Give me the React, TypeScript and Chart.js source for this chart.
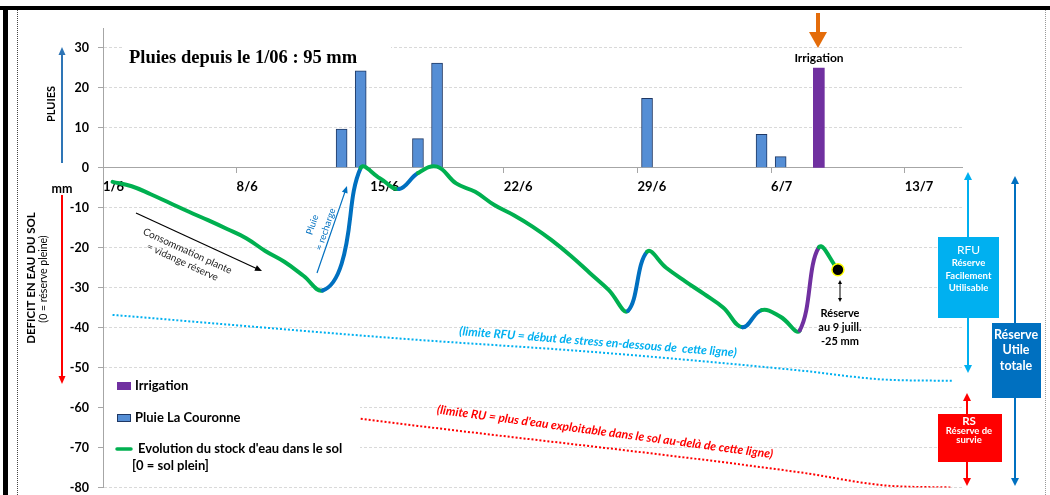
import React, { useEffect, useRef } from 'react';
import { Chart, registerables } from 'chart.js';

Chart.register(...registerables);

// ---------- data ----------
const dayTicks = [0, 7, 14, 21, 28, 35, 42];
const dateLabels = ['1/6', '8/6', '15/6', '22/6', '29/6', '6/7', '13/7'];
const mmTicks = [30, 20, 10, 0, -10, -20, -30, -40, -50, -60, -70, -80];

const rainDays = [12.5, 13.5, 16.5, 17.5, 28.5, 34.5, 35.5];
const rainMm = [9.7, 24.3, 7.3, 26.2, 17.4, 8.4, 2.8];

const irrigationDays = [37.5];
const irrigationMm = [25];

const stockDays = [
  0.5, 1.5, 2.5, 3.5, 4.5, 5.5, 6.5, 7.5, 8.5, 9.5, 10.5, 11.5, 12.5, 13.5, 14.5, 15.5, 16.5, 17.5, 18.5, 19.5,
  20.5, 21.5, 22.5, 23.5, 24.5, 25.5, 26.5, 27.5, 28.5, 29.5, 30.5, 31.5, 32.5, 33.5, 34.5, 35.5, 36.5, 37.5, 38.5,
];
const stockMm = [
  -3.5, -4.6, -6.6, -8.8, -11.0, -13.1, -15.3, -17.6, -20.8, -23.5, -27.0, -30.7, -24.0, 0.0, -2.6, -5.3, -1.3, 0.3, -3.9, -6.0,
  -9.3, -11.8, -14.7, -18.1, -22.0, -26.3, -30.6, -35.8, -21.0, -25.0, -28.4, -31.6, -35.0, -39.9, -35.6, -37.3, -40.7, -19.9, -25.5,
];

const rechargeSpans = [[11.5, 13.5], [15.5, 16.5], [27.5, 28.5], [33.5, 34.5]];
const irrigationSpans = [[36.5, 37.5]];

const reserveDay = [38.5];
const reserveMm = [-25.5];

const rfuDays = [0.5, 15.5, 26, 36.5, 41, 44.5];
const rfuMm = [-36.8, -42.7, -46.2, -50.7, -53, -53.3];

const ruDays = [13.5, 15.5, 36.5, 41, 44.5];
const ruMm = [-62.8, -64, -76.2, -79.5, -80];

// ---------- styles ----------
const FONT = 'Lato, "Open Sans", "DejaVu Sans", sans-serif';
const GREEN = '#00B050';
const BLUE = '#0070C0';
const PURPLE = '#7030A0';
const RAIN_FILL = '#558ED5';
const RAIN_EDGE = '#1F3864';
const CYAN = '#00B0F0';
const RED = '#FF0000';

const f = (size: number, weight = 'bold', style = 'normal') => `${style} ${weight} ${size}px ${FONT}`;

function head(c: CanvasRenderingContext2D, x: number, y: number, a: number, len: number, hw: number, color: string) {
  c.save();
  c.translate(x, y);
  c.rotate(a);
  c.beginPath();
  c.moveTo(0, 0);
  c.lineTo(-len, -hw);
  c.lineTo(-len, hw);
  c.closePath();
  c.fillStyle = color;
  c.fill();
  c.restore();
}

function arrow(
  c: CanvasRenderingContext2D, x1: number, y1: number, x2: number, y2: number,
  color: string, width: number, len: number, hw: number, both = false,
) {
  const a = Math.atan2(y2 - y1, x2 - x1);
  const ca = Math.cos(a), sa = Math.sin(a);
  c.save();
  c.strokeStyle = color;
  c.lineWidth = width;
  c.beginPath();
  c.moveTo(both ? x1 + ca * len * 0.7 : x1, both ? y1 + sa * len * 0.7 : y1);
  c.lineTo(x2 - ca * len * 0.7, y2 - sa * len * 0.7);
  c.stroke();
  head(c, x2, y2, a, len, hw, color);
  if (both) head(c, x1, y1, a + Math.PI, len, hw, color);
  c.restore();
}

function rotLines(
  c: CanvasRenderingContext2D, cx: number, cy: number, angleDeg: number,
  lines: [string, number][], font: string, color: string,
) {
  c.save();
  c.translate(cx, cy);
  c.rotate((angleDeg * Math.PI) / 180);
  c.font = font;
  c.fillStyle = color;
  c.textAlign = 'center';
  c.textBaseline = 'middle';
  lines.forEach(([t, dy]) => c.fillText(t, 0, dy));
  c.restore();
}

function centered(c: CanvasRenderingContext2D, lines: [string, number][], x: number, font: string, color: string) {
  c.font = font;
  c.fillStyle = color;
  c.textAlign = 'center';
  c.textBaseline = 'middle';
  lines.forEach(([t, y]) => c.fillText(t, x, y));
}

const decor = {
  id: 'decor',
  beforeDatasetsDraw(chart: any) {
    const c: CanvasRenderingContext2D = chart.ctx;
    c.save();
    c.fillStyle = '#fff';
    c.fillRect(123, 40, 268, 28);
    c.fillRect(104, 371, 256, 110);
    c.restore();
  },
  afterDraw(chart: any) {
    const c: CanvasRenderingContext2D = chart.ctx;
    c.save();
    // frame
    c.fillStyle = '#000';
    c.fillRect(0, 6, 1050, 4);
    c.fillRect(3, 6, 5, 489);
    c.lineWidth = 1;
    c.setLineDash([1, 1]);
    c.strokeStyle = '#444';
    c.beginPath(); c.moveTo(17.5, 10); c.lineTo(17.5, 495); c.stroke();
    c.strokeStyle = '#999';
    c.beginPath(); c.moveTo(1045.5, 10); c.lineTo(1045.5, 495); c.stroke();
    c.setLineDash([]);

    // title
    c.font = 'bold 18.5px "Liberation Serif", "Times New Roman", serif';
    c.fillStyle = '#000';
    c.textAlign = 'left';
    c.textBaseline = 'alphabetic';
    c.fillText('Pluies depuis le 1/06 : 95 mm', 129, 63);

    // irrigation marker
    arrow(c, 818, 13, 818, 48, '#E46C0A', 4, 16, 9);
    centered(c, [['Irrigation', 58]], 819, f(12), '#000');

    // left axis titles
    rotLines(c, 51, 104, -90, [['PLUIES', 0]], f(11), '#000');
    arrow(c, 62, 163, 62, 47, '#2E75B6', 2, 8, 3.5);
    centered(c, [['mm', 189]], 62, f(12.5), '#000');
    rotLines(c, 31, 278, -90, [['DEFICIT EN EAU DU SOL', 0]], f(11.5), '#000');
    rotLines(c, 44, 279, -90, [['(0 = réserve pleine)', 0]], f(10.5, 'normal'), '#000');
    arrow(c, 62, 195, 62, 384, RED, 2, 8, 3.5);

    // consumption annotation
    arrow(c, 136, 213, 262, 271, '#000', 1.2, 7, 3);
    rotLines(c, 185, 256.5, 24.5, [['Consommation plante', -6], ['= vidange réserve', 6]], f(10, 'normal'), '#222');

    // rain recharge annotation
    arrow(c, 317, 273, 347, 186, BLUE, 1.2, 7, 3);
    rotLines(c, 319, 227, -71, [['Pluie', -7], ['= recharge', 7]], f(9.5, 'normal'), BLUE);

    // limit texts
    rotLines(c, 598, 342, 4.5, [['(limite RFU = début de stress en-dessous de  cette ligne)', 0]], f(12, 'bold', 'italic'), CYAN);
    rotLines(c, 605, 432, 7.6, [["(limite RU = plus d'eau exploitable dans le sol au-delà de cette ligne)", 0]], f(12, 'bold', 'italic'), RED);

    // reserve annotation
    arrow(c, 840, 280, 840, 302, '#000', 1, 4, 2, true);
    centered(c, [['Réserve', 313], ['au 9 juill.', 327], ['-25 mm', 341]], 840, f(11), '#000');

    // legend
    c.fillStyle = PURPLE;
    c.fillRect(117, 382, 14, 8);
    c.fillStyle = RAIN_FILL;
    c.fillRect(117, 414, 14, 8);
    c.strokeStyle = RAIN_EDGE;
    c.lineWidth = 1;
    c.strokeRect(117.5, 414.5, 13, 7);
    c.strokeStyle = GREEN;
    c.lineWidth = 3.5;
    c.lineCap = 'round';
    c.beginPath(); c.moveTo(117, 449); c.lineTo(131, 449); c.stroke();
    c.font = f(13);
    c.fillStyle = '#000';
    c.textAlign = 'left';
    c.textBaseline = 'middle';
    c.fillText('Irrigation', 135, 386);
    c.fillText('Pluie La Couronne', 135, 418);
    c.fillText("Evolution du stock d'eau dans le sol", 138, 449);
    c.fillText('[0 = sol plein]', 132, 466);

    // right side reserve boxes
    arrow(c, 968, 172, 968, 373, CYAN, 2, 8, 4, true);
    c.fillStyle = CYAN;
    c.fillRect(938, 237, 61, 81);
    centered(c, [['RFU', 250]], 968.5, f(12, 'normal'), '#fff');
    centered(c, [['Réserve', 263], ['Facilement', 275.5], ['Utilisable', 288]], 968.5, f(9.5), '#fff');

    arrow(c, 1015, 176, 1015, 486, BLUE, 2, 8, 4, true);
    c.fillStyle = BLUE;
    c.fillRect(992, 323, 49, 75);
    centered(c, [['Réserve', 335], ['Utile', 350], ['totale', 366]], 1016, f(12.5), '#fff');

    arrow(c, 967, 393, 967, 486, RED, 2, 8, 4, true);
    c.fillStyle = RED;
    c.fillRect(938, 414, 64, 48);
    centered(c, [['RS', 421]], 969, f(11.5), '#fff');
    centered(c, [['Réserve de', 431], ['survie', 440]], 969, f(9.5), '#fff');

    c.restore();
  },
};

const spanColor = (x: number) => {
  for (const [a, b] of irrigationSpans) if (x >= a - 0.01 && x < b - 0.01) return PURPLE;
  for (const [a, b] of rechargeSpans) if (x >= a - 0.01 && x < b - 0.01) return BLUE;
  return GREEN;
};

export default function App() {
  const ref = useRef<HTMLCanvasElement>(null);
  useEffect(() => {
    document.body.style.margin = '0';
    const chart = new Chart(ref.current as HTMLCanvasElement, {
      type: 'line',
      data: {
        datasets: [
          {
            type: 'line',
            label: 'reserve',
            data: reserveDay.map((d, i) => ({ x: d, y: reserveMm[i] })),
            showLine: false,
            pointRadius: 6,
            pointBackgroundColor: '#000',
            pointBorderColor: '#FFFF00',
            pointBorderWidth: 1.5,
            order: -1,
          },
          {
            type: 'line',
            label: "Evolution du stock d'eau dans le sol",
            data: stockDays.map((d, i) => ({ x: d, y: stockMm[i] })),
            borderColor: GREEN,
            borderWidth: 4,
            tension: 0.4,
            pointRadius: 0,
            borderCapStyle: 'round',
            borderJoinStyle: 'round',
            segment: { borderColor: (ctx: any) => spanColor(ctx.p0.parsed.x) },
            order: 0,
          },
          {
            type: 'line',
            label: 'limite RFU',
            data: rfuDays.map((d, i) => ({ x: d, y: rfuMm[i] })),
            borderColor: CYAN,
            borderWidth: 2,
            borderDash: [2, 2],
            cubicInterpolationMode: 'monotone',
            pointRadius: 0,
            order: 1,
          },
          {
            type: 'line',
            label: 'limite RU',
            data: ruDays.map((d, i) => ({ x: d, y: ruMm[i] })),
            borderColor: RED,
            borderWidth: 2,
            borderDash: [2, 2],
            cubicInterpolationMode: 'monotone',
            pointRadius: 0,
            order: 1,
          },
          {
            type: 'bar',
            label: 'Pluie La Couronne',
            data: rainDays.map((d, i) => ({ x: d, y: rainMm[i] })),
            backgroundColor: RAIN_FILL,
            borderColor: RAIN_EDGE,
            borderWidth: 1,
            barThickness: 11,
            grouped: false,
            order: 2,
          },
          {
            type: 'bar',
            label: 'Irrigation',
            data: irrigationDays.map((d, i) => ({ x: d, y: irrigationMm[i] })),
            backgroundColor: PURPLE,
            borderWidth: 0,
            barThickness: 11,
            grouped: false,
            order: 2,
          },
        ] as any,
      },
      options: {
        responsive: false,
        animation: false,
        events: [],
        layout: { padding: { top: 28, right: 88, bottom: 7, left: 0 } },
        plugins: { legend: { display: false }, tooltip: { enabled: false } },
        scales: {
          x: {
            type: 'linear',
            min: 0,
            max: 45,
            offset: false,
            position: { y: 0 } as any,
            afterBuildTicks: (s: any) => { s.ticks = dayTicks.map((v) => ({ value: v })); },
            afterFit: (s: any) => { s.paddingLeft = 0; s.paddingRight = 0; s.paddingTop = 0; s.paddingBottom = 0; },
            ticks: {
              align: 'start',
              padding: 6,
              color: '#000',
              autoSkip: false,
              maxRotation: 0,
              font: { family: FONT, size: 13, weight: 'bold' },
              callback: (v: any) => { const i = dayTicks.indexOf(Number(v)); return i >= 0 ? dateLabels[i] : ''; },
            },
            grid: { drawOnChartArea: false, drawTicks: true, tickLength: 5, tickColor: '#A6A6A6', color: '#A6A6A6', offset: false },
            border: { color: '#A6A6A6', width: 1 },
          },
          y: {
            type: 'linear',
            min: -80,
            max: 35,
            position: 'left',
            afterBuildTicks: (s: any) => { s.ticks = mmTicks.map((v) => ({ value: v })); },
            afterFit: (s: any) => { s.width = 103; s.paddingTop = 0; s.paddingBottom = 0; },
            ticks: {
              padding: 9,
              color: '#000',
              autoSkip: false,
              font: { family: FONT, size: 12.5, weight: 'bold' },
            },
            grid: { color: '#D9D9D9', tickColor: '#A6A6A6', tickLength: 5, lineWidth: 1, tickBorderDash: [] },
            border: { color: '#A6A6A6', width: 1, dash: [3, 2] },
          },
        },
      } as any,
      plugins: [decor],
    });
    return () => chart.destroy();
  }, []);
  return (
    <div style={{ width: 1050, height: 495, position: 'relative', background: '#fff' }}>
      <canvas ref={ref} width={1050} height={495} style={{ display: 'block' }} />
    </div>
  );
}
